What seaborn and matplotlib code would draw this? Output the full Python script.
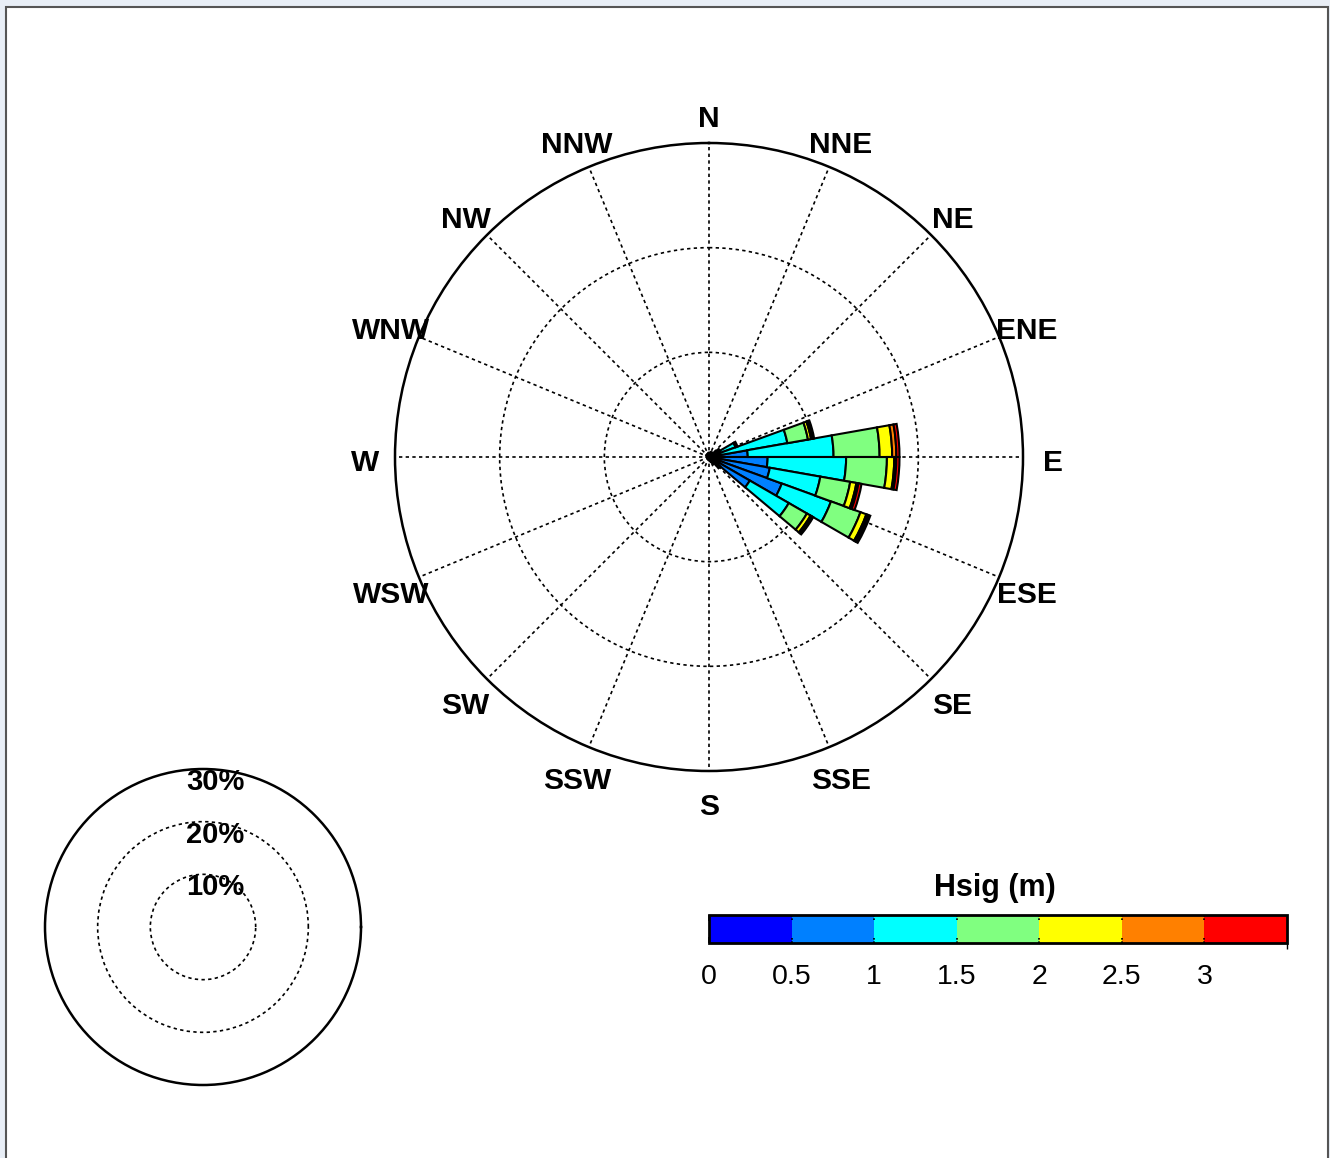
import numpy as np
import matplotlib
matplotlib.use("Agg")
from matplotlib import pyplot as plt
from matplotlib.colors import ListedColormap, BoundaryNorm
from matplotlib.cm import ScalarMappable
from matplotlib.patches import Rectangle
from matplotlib.transforms import ScaledTranslation
import seaborn as sns

sns.set_theme(style="white")
plt.rcParams['font.family'] = ['Liberation Sans', 'DejaVu Sans']
plt.rcParams['text.color'] = 'black'
plt.rcParams['axes.edgecolor'] = 'black'
plt.rcParams['xtick.color'] = 'black'
plt.rcParams['ytick.color'] = 'black'

# wave direction sectors (deg, 10 deg wide) holding most of the data
sectors = [45, 55, 65, 75, 85, 95, 105, 115, 125, 135, 145]
# percentage of time in each Hsig class, per sector
h_0_05 = [0.3, 0.4, 0.3, 0.2, 0.3, 0.3, 0.3, 0.4, 0.3, 0.4, 0.3]
h_05_1 = [0.2, 0.5, 0.8, 0.6, 3.4, 5.3, 5.6, 7.0, 4.2, 0.6, 0.3]
h_1_15 = [0.0, 0.3, 1.6, 6.8, 8.2, 7.5, 4.9, 5.0, 4.3, 0.4, 0.2]
h_15_2 = [0.0, 0.0, 0.2, 2.0, 4.4, 3.9, 2.9, 3.0, 2.0, 0.0, 0.0]
h_2_25 = [0.0, 0.0, 0.0, 0.3, 1.2, 0.7, 0.6, 0.6, 0.4, 0.0, 0.0]
h_25_3 = [0.0, 0.0, 0.0, 0.2, 0.4, 0.2, 0.2, 0.2, 0.2, 0.0, 0.0]
h_3_up = [0.0, 0.0, 0.0, 0.1, 0.3, 0.3, 0.3, 0.2, 0.1, 0.0, 0.0]

# remaining sectors, only calm small waves
calm_sectors = [5, 15, 25, 35, 155, 165, 175, 185, 195, 205, 215, 225, 235,
                245, 255, 265, 275, 285, 295, 305, 315, 325, 335, 345, 355]
calm_pct = [0.4, 0.4, 0.5, 0.5, 0.5, 0.4, 0.3, 0.3, 0.2, 0.2, 0.2, 0.2, 0.2,
            0.2, 0.2, 0.2, 0.2, 0.2, 0.2, 0.3, 0.3, 0.3, 0.3, 0.3, 0.4]

hsig_bounds = [0, 0.5, 1, 1.5, 2, 2.5, 3, 3.5]
hsig_labels = ['0', '0.5', '1', '1.5', '2', '2.5', '3']
class_colors = ['#0000FF', '#0080FF', '#00FFFF', '#80FF80',
                '#FFFF00', '#FF8000', '#FF0000']
compass = ['N', 'NNE', 'NE', 'ENE', 'E', 'ESE', 'SE', 'SSE',
           'S', 'SSW', 'SW', 'WSW', 'W', 'WNW', 'NW', 'NNW']
rings = [10, 20, 30]

W, H = 1330, 1158
fig = plt.figure(figsize=(W / 100, H / 100), dpi=100)
fig.patch.set_facecolor('#E8EEF6')
fig.patches.append(Rectangle((6 / W, -0.01), 1322 / W, 1151 / H + 0.01,
                             transform=fig.transFigure, facecolor='white',
                             edgecolor='#555555', linewidth=1.5, zorder=-1))

dots = (0, (2, 2))
palette = sns.color_palette(class_colors)

# main rose
cx, cy, R = 709, 457, 314
ax = fig.add_axes([(cx - R) / W, 1 - (cy + R) / H, 2 * R / W, 2 * R / H],
                  projection='polar')
ax.set_theta_zero_location('N')
ax.set_theta_direction(-1)
ax.set_ylim(0, 30)
ax.set_xticks(np.deg2rad(np.arange(0, 360, 22.5)))
ax.set_xticklabels([])
ax.set_yticks([10, 20])
ax.set_yticklabels([])
ax.grid(True, color='black', linestyle=dots, linewidth=1.2)
ax.spines['polar'].set_linewidth(1.8)
ax.set_axisbelow(True)
ax.set_facecolor('white')

width = np.deg2rad(10)
th = np.deg2rad(sectors)
ax.bar(np.deg2rad(calm_sectors), calm_pct, width=width, color=palette[0],
       edgecolor='black', linewidth=1.5)
bottom = np.zeros(len(sectors))
for vals, col in zip([h_0_05, h_05_1, h_1_15, h_15_2, h_2_25, h_25_3, h_3_up],
                     palette):
    vals = np.array(vals)
    keep = vals > 0
    ax.bar(th[keep], vals[keep], width=width, bottom=bottom[keep], color=col,
           edgecolor='black', linewidth=1.5)
    bottom += vals

shift = ax.transData + ScaledTranslation(0, -6 / 100, fig.dpi_scale_trans)
for i, name in enumerate(compass):
    ax.text(np.deg2rad(i * 22.5), 32.9, name, ha='center', va='center',
            fontsize=21.5, fontweight='bold', transform=shift, clip_on=False)

# scale circle
sx, sy, sr = 203, 927, 158
ax2 = fig.add_axes([(sx - sr) / W, 1 - (sy + sr) / H, 2 * sr / W, 2 * sr / H],
                   projection='polar')
ax2.set_ylim(0, 30)
ax2.set_xticks([])
ax2.set_yticks([10, 20])
ax2.set_yticklabels([])
ax2.grid(True, color='black', linestyle=dots, linewidth=1.2)
ax2.spines['polar'].set_linewidth(1.8)
lab_shift = ax2.transData + ScaledTranslation(12 / 100, -13 / 100,
                                              fig.dpi_scale_trans)
for r in rings:
    ax2.text(np.pi / 2, r, f'{r}%', ha='center', va='center', fontsize=21,
             fontweight='bold', transform=lab_shift, clip_on=False)

# colour bar
cax = fig.add_axes([709 / W, 1 - 943 / H, 578 / W, 28 / H])
cmap = ListedColormap(class_colors)
norm = BoundaryNorm(hsig_bounds, cmap.N)
cb = fig.colorbar(ScalarMappable(norm=norm, cmap=cmap), cax=cax,
                  orientation='horizontal', ticks=hsig_bounds[:-1])
cb.set_ticklabels(hsig_labels)
cb.outline.set_linewidth(2)
cax.tick_params(axis='x', length=4, width=1.2, direction='in', top=True,
                labelsize=20.5, pad=15, colors='black')
for b in hsig_bounds[1:-1]:
    cax.axvline(b, ymin=0, ymax=0.18, color='black', lw=1.2, ls=(0, (1, 1)))
    cax.axvline(b, ymin=0.82, ymax=1, color='black', lw=1.2, ls=(0, (1, 1)))
fig.text(995 / W, 1 - 888 / H, 'Hsig (m)', ha='center', va='center',
         fontsize=22, fontweight='bold')

fig.savefig('out.png', dpi=100, facecolor=fig.get_facecolor())
